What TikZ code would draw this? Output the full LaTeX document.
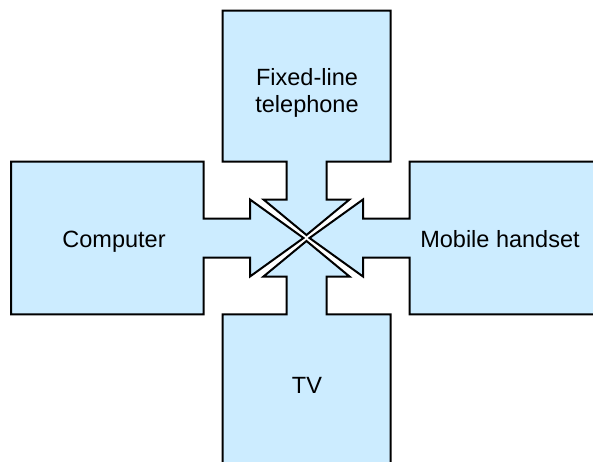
\documentclass[tikz,border=0pt]{standalone}
\usepackage{fontspec}
\setmainfont{Liberation Sans}
\definecolor{paleblue}{RGB}{204,236,255}
\tikzset{
  blockarrow/.style={draw=black,fill=paleblue,line width=2pt,line join=miter},
  devicelabel/.style={font=\fontsize{23.5}{27.7}\selectfont,inner sep=0pt,align=center}
}
\begin{document}
\begin{tikzpicture}[x=1pt,y=-1pt]
 \useasboundingbox (0,0) rectangle (593,461);
 \clip (0,0) rectangle (593,461);
 % top
 \draw[blockarrow](222.5,10.7)--(390.5,10.7)--(390.5,161.7)--(326.5,161.7)--(326.5,199.5)--(349.5,199.5)--(306.5,235)--(263.5,199.5)--(286.5,199.5)--(286.5,161.7)--(222.5,161.7)--cycle;
 % left
 \draw[blockarrow](11,161.7)--(203.5,161.7)--(203.5,218.5)--(250,218.5)--(250,199.5)--(303.5,238)--(250,276.5)--(250,257.5)--(203.5,257.5)--(203.5,314.3)--(11,314.3)--cycle;
 % right
 \draw[blockarrow](602,161.7)--(409.5,161.7)--(409.5,218.5)--(363,218.5)--(363,199.5)--(309.5,238)--(363,276.5)--(363,257.5)--(409.5,257.5)--(409.5,314.3)--(602,314.3)--cycle;
 % bottom
 \draw[blockarrow](222.5,466)--(390.5,466)--(390.5,314.3)--(326.5,314.3)--(326.5,276.5)--(349.5,276.5)--(306.5,241)--(263.5,276.5)--(286.5,276.5)--(286.5,314.3)--(222.5,314.3)--cycle;
 \node[devicelabel] (phone) at (307,92.8) {Fixed-line\\telephone};
 \node[devicelabel,anchor=base] (computer) at (114,247.3) {Computer};
 \node[devicelabel,anchor=base] (mobile) at (500,247.3) {Mobile handset};
 \node[devicelabel,anchor=base] (tv) at (307,393.3) {TV};
\end{tikzpicture}
\end{document}
